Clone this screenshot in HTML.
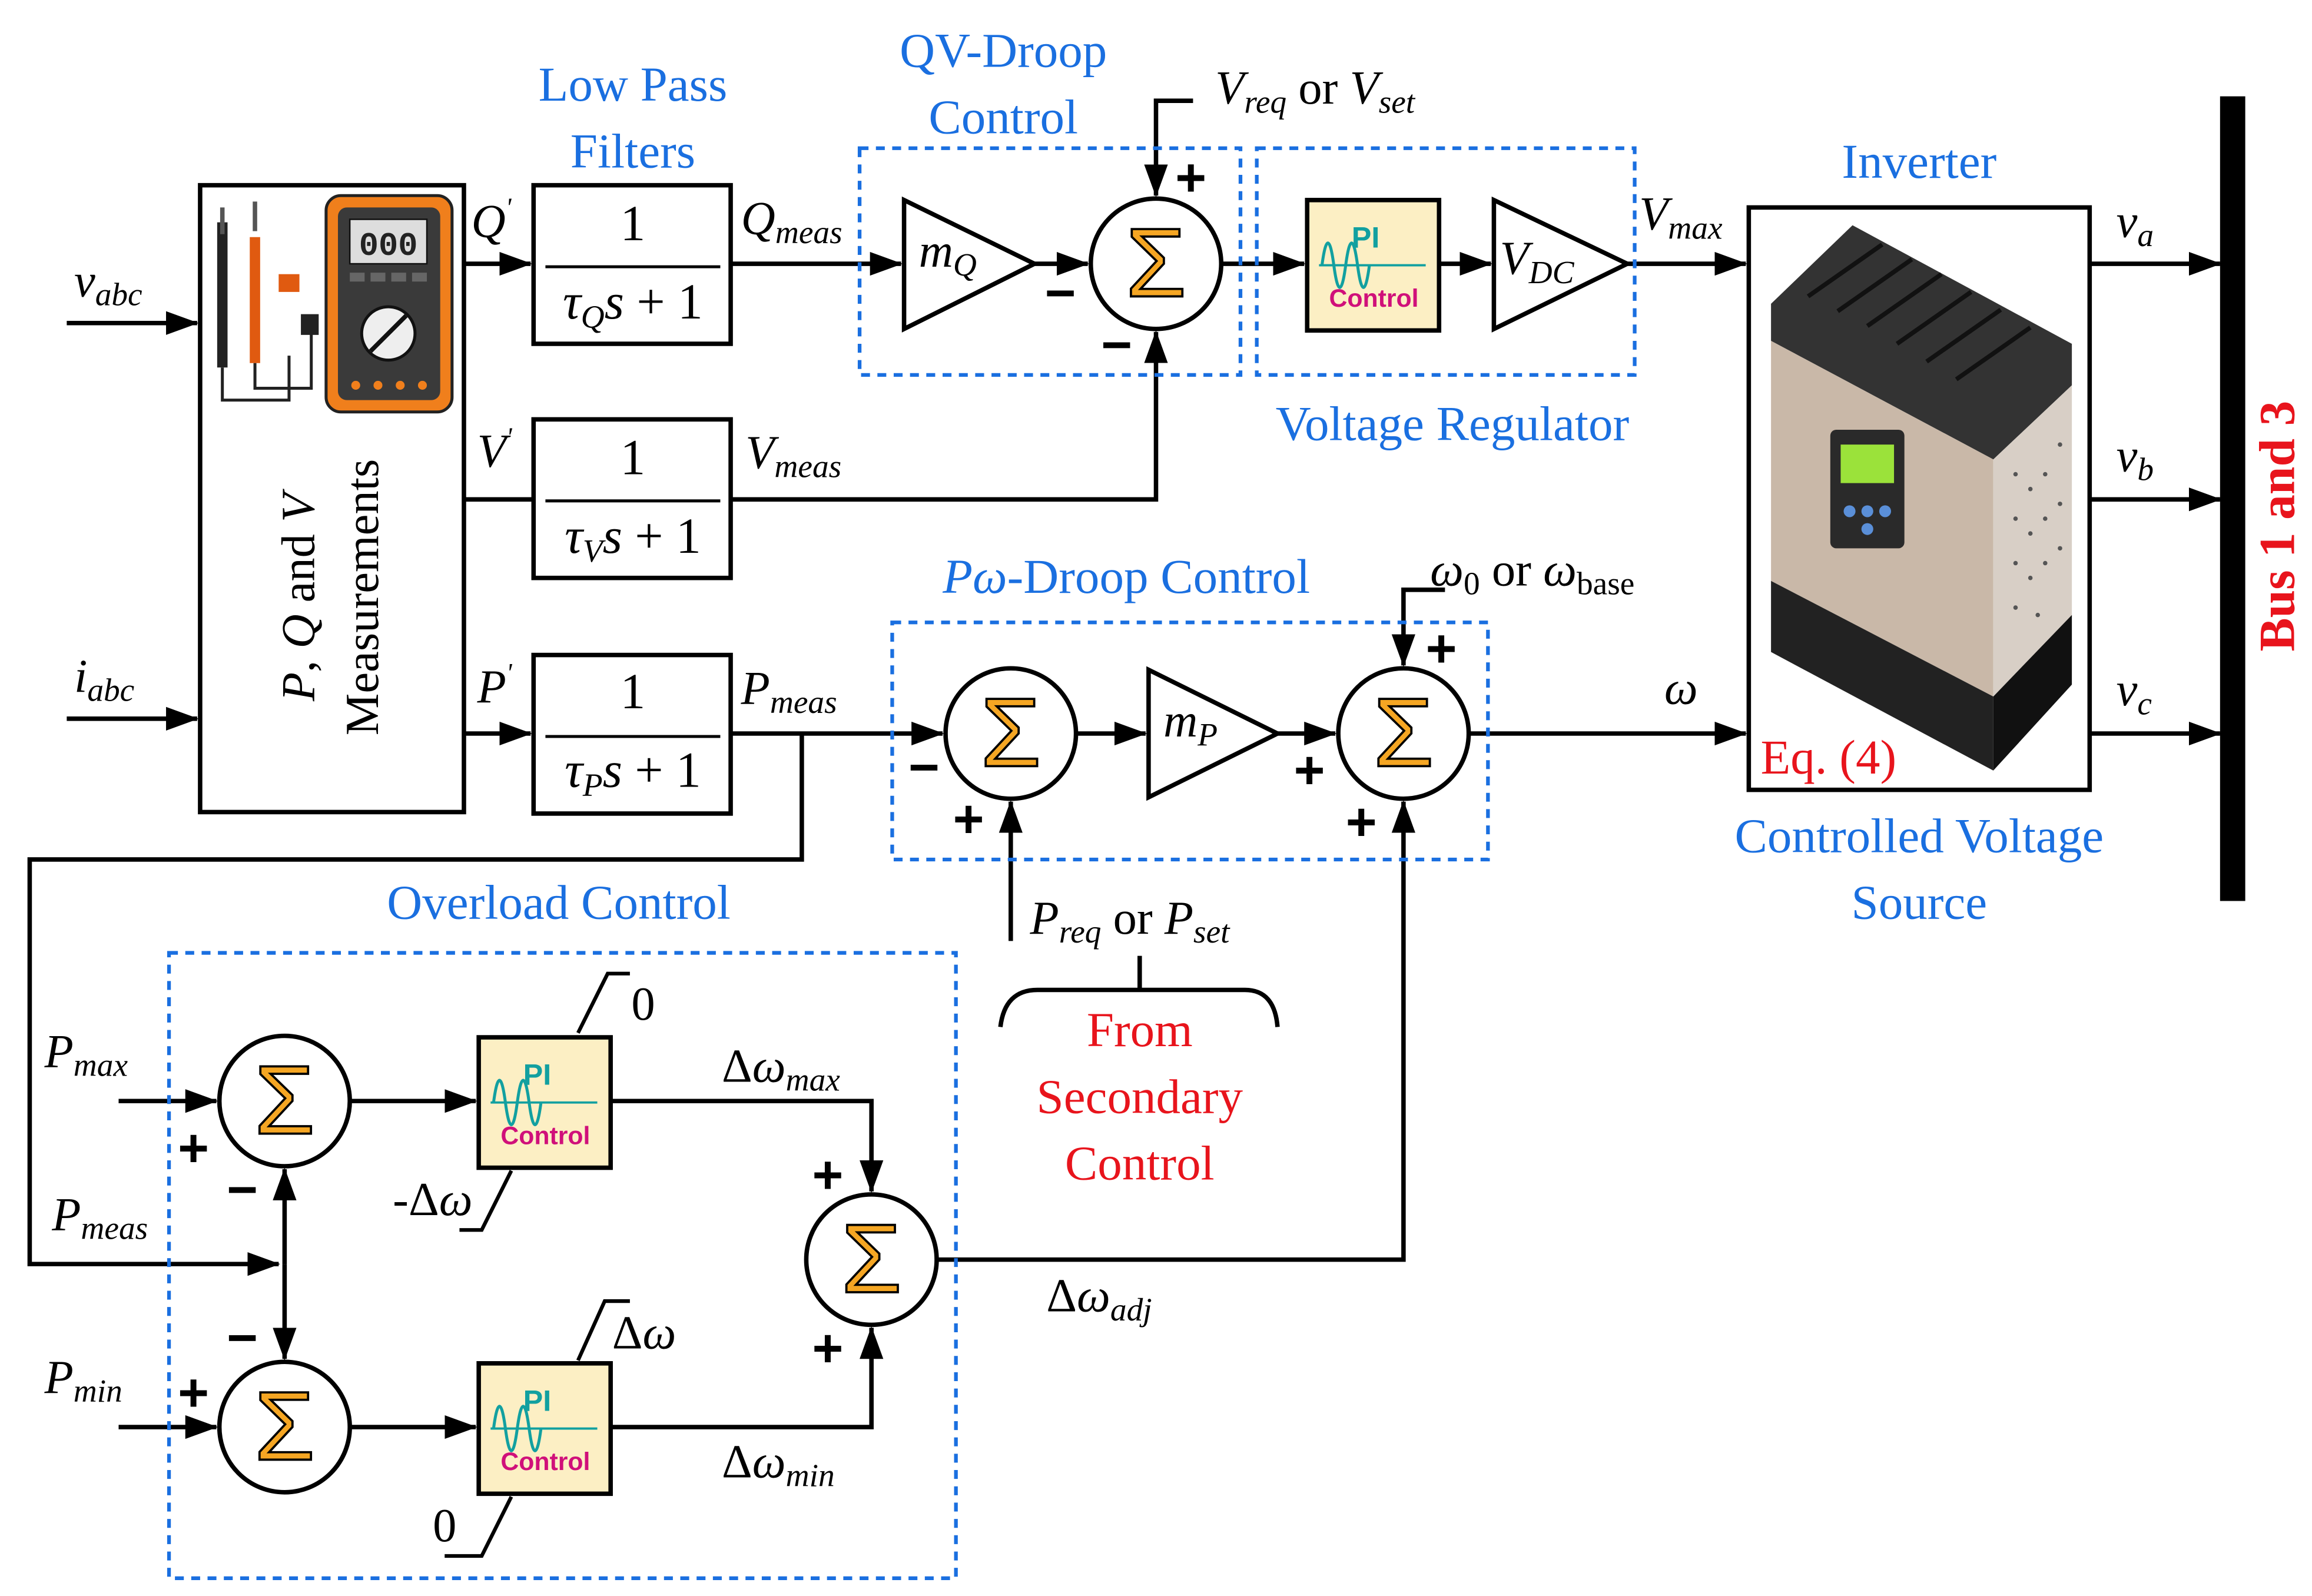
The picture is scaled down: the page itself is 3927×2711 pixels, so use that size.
<!DOCTYPE html>
<html><head><meta charset="utf-8"><style>
html,body{margin:0;padding:0;background:#fff}
svg{display:block}
text{font-family:"Liberation Serif",serif}
.m{font-style:italic;font-size:32px}
.b{fill:#1a6fe0;font-size:33px}
.r{fill:#e8141c;font-size:33px}
.pm text{font-family:"Liberation Sans",sans-serif;font-weight:bold;font-size:36px}
.sg{font-family:"Liberation Sans",sans-serif}
</style></head><body>
<svg width="3927" height="2711" viewBox="0 0 1560 1077" xmlns="http://www.w3.org/2000/svg">
<defs>
<marker id="a2" markerWidth="22" markerHeight="16" refX="21" refY="8" orient="auto" markerUnits="userSpaceOnUse"><path d="M0,0 L22,8 L0,16 z" fill="#000"/></marker>
<g id="sum"><circle r="44" fill="#fff" stroke="#000" stroke-width="3"/><text class="sg" x="0" y="22" text-anchor="middle" font-size="66" fill="#f5a623" stroke="#000" stroke-width="1.5">Σ</text></g>
<g id="pi"><rect width="89" height="88" fill="#fcefc4" stroke="#000" stroke-width="3"/>
<text x="30" y="32" style="font-family:'Liberation Sans',sans-serif;font-weight:bold;font-size:20px" fill="#12a0a0">PI</text>
<path d="M8,44 L80,44" stroke="#12a0a0" stroke-width="1.5"/>
<path d="M10,44 Q14,14 18,44 T26,44 T34,44 T42,44" fill="none" stroke="#12a0a0" stroke-width="2"/>
<text x="45" y="72" text-anchor="middle" style="font-family:'Liberation Sans',sans-serif;font-weight:bold;font-size:17px" fill="#d0107a">Control</text></g>
</defs>
<g stroke="#000" stroke-width="3" fill="none">
<rect x="135" y="125" width="178" height="423"/>
<rect x="360" y="125" width="133" height="107"/>
<rect x="360" y="283" width="133" height="107"/>
<rect x="360" y="442" width="133" height="107"/>
<path d="M368,180 H486 M368,338 H486 M368,497 H486" stroke-width="2"/>
<path d="M45,218 H133" marker-end="url(#a2)"/>
<path d="M45,485 H133" marker-end="url(#a2)"/>
<path d="M313,178 H358" marker-end="url(#a2)"/>
<path d="M313,337 H360"/>
<path d="M313,495 H358" marker-end="url(#a2)"/>
<path d="M493,178 H608" marker-end="url(#a2)"/>
<path d="M610,135 L610,222 L698,178 Z"/>
<path d="M698,178 H734" marker-end="url(#a2)"/>
<path d="M805,68 H780 V132" marker-end="url(#a2)"/>
<path d="M493,337 H780 V224" marker-end="url(#a2)"/>
<path d="M824,178 H880" marker-end="url(#a2)"/>
<path d="M971,178 H1006" marker-end="url(#a2)"/>
<path d="M1008,135 L1008,222 L1098,178 Z"/>
<path d="M1098,178 H1178" marker-end="url(#a2)"/>
<rect x="1180" y="140" width="230" height="393"/>
<path d="M1410,178 H1498" marker-end="url(#a2)"/>
<path d="M1410,337 H1498" marker-end="url(#a2)"/>
<path d="M1410,495 H1498" marker-end="url(#a2)"/>
<path d="M493,495 H636" marker-end="url(#a2)"/>
<path d="M726,495 H773" marker-end="url(#a2)"/>
<path d="M775,452 L775,538 L862,495 Z"/>
<path d="M862,495 H901" marker-end="url(#a2)"/>
<path d="M991,495 H1178" marker-end="url(#a2)"/>
<path d="M975,398 H947 V449" marker-end="url(#a2)"/>
<path d="M682,635 V541" marker-end="url(#a2)"/>
<path d="M675,693 Q678,668 700,668 H840 Q860,668 862,693" stroke-width="3"/>
<path d="M769,645 V668"/>
<path d="M541,495 V580 H20 V853 H188" marker-end="url(#a2)"/>
<path d="M80,743 H146" marker-end="url(#a2)"/>
<path d="M236,743 H321" marker-end="url(#a2)"/>
<path d="M390,697 L410,657 H425 M345,790 L325,830 H310" stroke-width="2.5"/>
<path d="M412,743 H588 V804" marker-end="url(#a2)"/>
<path d="M632,850 H947 V541" marker-end="url(#a2)"/>
<path d="M192,853 V789" marker-end="url(#a2)"/>
<path d="M192,853 V917" marker-end="url(#a2)"/>
<path d="M80,963 H146" marker-end="url(#a2)"/>
<path d="M236,963 H321" marker-end="url(#a2)"/>
<path d="M390,918 L408,878 H425 M345,1010 L325,1050 H300" stroke-width="2.5"/>
<path d="M412,963 H588 V896" marker-end="url(#a2)"/>
</g>
<g stroke="#1a6fe0" stroke-width="2.5" stroke-dasharray="6,5" fill="none">
<rect x="580" y="100" width="257" height="153"/>
<rect x="848" y="100" width="255" height="153"/>
<rect x="602" y="420" width="402" height="160"/>
<rect x="114" y="643" width="531" height="422"/>
</g>
<rect x="1498" y="65" width="17" height="543" fill="#000"/>
<text transform="translate(1548,355) rotate(-90)" text-anchor="middle" font-weight="bold" font-size="34" fill="#e8141c">Bus 1 and 3</text>
<use href="#sum" x="780" y="178"/>
<use href="#sum" x="682" y="495"/>
<use href="#sum" x="947" y="495"/>
<use href="#sum" x="192" y="743"/>
<use href="#sum" x="192" y="963"/>
<use href="#sum" x="588" y="850"/>
<use href="#pi" x="882" y="135"/>
<use href="#pi" x="323" y="700"/>
<use href="#pi" x="323" y="920"/>
<!-- multimeter -->
<rect x="220" y="132" width="85" height="146" rx="10" fill="#f07f1c" stroke="#222" stroke-width="2"/>
<rect x="228" y="140" width="69" height="130" rx="6" fill="#3a3a3a"/>
<rect x="236" y="148" width="52" height="30" fill="#ddd" stroke="#111"/>
<text x="262" y="172" text-anchor="middle" style="font-family:'Liberation Mono',monospace;font-size:22px;font-weight:bold" fill="#222">000</text>
<g fill="#666"><rect x="236" y="184" width="10" height="6"/><rect x="250" y="184" width="10" height="6"/><rect x="264" y="184" width="10" height="6"/><rect x="278" y="184" width="10" height="6"/></g>
<circle cx="262" cy="225" r="18" fill="#eee" stroke="#111" stroke-width="2"/>
<path d="M250,237 L274,213" stroke="#111" stroke-width="3"/>
<g fill="#f07f1c"><circle cx="240" cy="260" r="3"/><circle cx="255" cy="260" r="3"/><circle cx="270" cy="260" r="3"/><circle cx="285" cy="260" r="3"/></g>
<path d="M150,165 V248 M150,150 V165" stroke="#222" stroke-width="7"/>
<path d="M172,160 V245" stroke="#e05a10" stroke-width="7"/>
<path d="M150,140 V158 M172,136 V156" stroke="#555" stroke-width="3"/>
<path d="M150,248 V270 H195 V240 M172,245 V262 H210 V220" stroke="#222" fill="none" stroke-width="2"/>
<rect x="188" y="185" width="14" height="12" fill="#e05a10"/>
<rect x="203" y="212" width="12" height="14" fill="#222"/>
<!-- inverter -->
<polygon points="1195,205 1250,152 1398,232 1398,260 1345,310 1195,230" fill="#333"/>
<g stroke="#111" stroke-width="3"><path d="M1220,200 L1270,165 M1240,210 L1290,175 M1260,220 L1310,185 M1280,232 L1330,197 M1300,244 L1350,209 M1320,256 L1370,221"/></g>
<polygon points="1195,230 1345,310 1345,470 1195,392" fill="#c9b8a8"/>
<polygon points="1345,310 1398,260 1398,415 1345,470" fill="#d8cfc6"/>
<g fill="#555"><circle cx="1360" cy="320" r="1.5"/><circle cx="1370" cy="330" r="1.5"/><circle cx="1380" cy="320" r="1.5"/><circle cx="1360" cy="350" r="1.5"/><circle cx="1370" cy="360" r="1.5"/><circle cx="1380" cy="350" r="1.5"/><circle cx="1360" cy="380" r="1.5"/><circle cx="1370" cy="390" r="1.5"/><circle cx="1380" cy="380" r="1.5"/><circle cx="1390" cy="300" r="1.5"/><circle cx="1390" cy="340" r="1.5"/><circle cx="1390" cy="370" r="1.5"/><circle cx="1360" cy="410" r="1.5"/><circle cx="1375" cy="415" r="1.5"/></g>
<polygon points="1195,392 1345,470 1345,520 1195,440" fill="#222"/>
<polygon points="1345,470 1398,415 1398,462 1345,520" fill="#111"/>
<rect x="1235" y="290" width="50" height="80" rx="4" fill="#2a2a2a"/>
<rect x="1242" y="300" width="36" height="26" fill="#9be23a"/>
<g fill="#5a8fd8"><circle cx="1248" cy="345" r="4"/><circle cx="1260" cy="345" r="4"/><circle cx="1272" cy="345" r="4"/><circle cx="1260" cy="357" r="4"/></g>
<g>
<text class="b" x="427" y="68" text-anchor="middle">Low Pass</text>
<text class="b" x="427" y="113" text-anchor="middle">Filters</text>
<text class="b" x="677" y="45" text-anchor="middle">QV-Droop</text>
<text class="b" x="677" y="90" text-anchor="middle">Control</text>
<text class="b" x="980" y="297" text-anchor="middle">Voltage Regulator</text>
<text class="b" x="1295" y="120" text-anchor="middle">Inverter</text>
<text class="b" x="1295" y="575" text-anchor="middle">Controlled Voltage</text>
<text class="b" x="1295" y="620" text-anchor="middle">Source</text>
<text class="b" x="760" y="400" text-anchor="middle"><tspan font-style="italic">Pω</tspan>-Droop Control</text>
<text class="b" x="377" y="620" text-anchor="middle">Overload Control</text>
<text class="r" x="1188" y="522">Eq. (4)</text>
<text class="r" x="769" y="706" text-anchor="middle">From</text>
<text class="r" x="769" y="751" text-anchor="middle">Secondary</text>
<text class="r" x="769" y="796" text-anchor="middle">Control</text>
<text transform="translate(212,403) rotate(-90)" text-anchor="middle" font-size="32"><tspan font-style="italic">P</tspan>, <tspan font-style="italic">Q</tspan> and <tspan font-style="italic">V</tspan></text>
<text transform="translate(255,403) rotate(-90)" text-anchor="middle" font-size="32">Measurements</text>
<text class="m" x="50" y="200">v<tspan font-size="22" dy="6">abc</tspan></text>
<text class="m" x="50" y="467">i<tspan font-size="22" dy="6">abc</tspan></text>
<text class="m" x="318" y="160">Q<tspan font-size="18" dy="-14">'</tspan></text>
<text class="m" x="322" y="315">V<tspan font-size="18" dy="-14">'</tspan></text>
<text class="m" x="322" y="474">P<tspan font-size="18" dy="-14">'</tspan></text>
<g font-size="34" text-anchor="middle">
<text x="427" y="162">1</text><text x="427" y="320">1</text><text x="427" y="478">1</text>
<text x="427" y="215"><tspan font-style="italic">τ</tspan><tspan font-size="22" font-style="italic" dy="6">Q</tspan><tspan dy="-6" font-style="italic">s</tspan> + 1</text>
<text x="427" y="373"><tspan font-style="italic">τ</tspan><tspan font-size="22" font-style="italic" dy="6">V</tspan><tspan dy="-6" font-style="italic">s</tspan> + 1</text>
<text x="427" y="531"><tspan font-style="italic">τ</tspan><tspan font-size="22" font-style="italic" dy="6">P</tspan><tspan dy="-6" font-style="italic">s</tspan> + 1</text>
</g>
<text class="m" x="500" y="158">Q<tspan font-size="22" dy="6">meas</tspan></text>
<text class="m" x="503" y="316">V<tspan font-size="22" dy="6">meas</tspan></text>
<text class="m" x="500" y="475">P<tspan font-size="22" dy="6">meas</tspan></text>
<text class="m" x="620" y="180">m<tspan font-size="22" dy="6">Q</tspan></text>
<text class="m" x="785" y="497">m<tspan font-size="22" dy="6">P</tspan></text>
<text class="m" x="1012" y="185">V<tspan font-size="22" dy="6">DC</tspan></text>
<text class="m" x="1106" y="155">V<tspan font-size="22" dy="6">max</tspan></text>
<text class="m" x="820" y="70">V<tspan font-size="22" dy="6">req</tspan><tspan font-style="normal" dy="-6"> or </tspan>V<tspan font-size="22" dy="6">set</tspan></text>
<text class="m" x="965" y="395">ω<tspan font-size="22" font-style="normal" dy="6">0</tspan><tspan font-style="normal" dy="-6"> or </tspan>ω<tspan font-size="22" font-style="normal" dy="6">base</tspan></text>
<text class="m" x="695" y="630">P<tspan font-size="22" dy="6">req</tspan><tspan font-style="normal" dy="-6"> or </tspan>P<tspan font-size="22" dy="6">set</tspan></text>
<text class="m" x="1123" y="475">ω</text>
<text class="m" x="1428" y="160">v<tspan font-size="22" dy="6">a</tspan></text>
<text class="m" x="1428" y="318">v<tspan font-size="22" dy="6">b</tspan></text>
<text class="m" x="1428" y="476">v<tspan font-size="22" dy="6">c</tspan></text>
<text class="m" x="30" y="720">P<tspan font-size="22" dy="6">max</tspan></text>
<text class="m" x="35" y="830">P<tspan font-size="22" dy="6">meas</tspan></text>
<text class="m" x="30" y="940">P<tspan font-size="22" dy="6">min</tspan></text>
<text class="m" x="487" y="730"><tspan font-style="normal">Δ</tspan>ω<tspan font-size="22" dy="6">max</tspan></text>
<text class="m" x="487" y="997"><tspan font-style="normal">Δ</tspan>ω<tspan font-size="22" dy="6">min</tspan></text>
<text class="m" x="706" y="885"><tspan font-style="normal">Δ</tspan>ω<tspan font-size="22" dy="6">adj</tspan></text>
<text font-size="32" x="426" y="688">0</text>
<text font-size="32" x="265" y="820">-Δ<tspan font-style="italic">ω</tspan></text>
<text font-size="32" x="413" y="910">Δ<tspan font-style="italic">ω</tspan></text>
<text font-size="32" x="292" y="1040">0</text>
<g class="pm">
<text x="793" y="132">+</text><text x="705" y="210">−</text><text x="743" y="245">−</text>
<text x="962" y="450">+</text><text x="873" y="532">+</text><text x="908" y="567">+</text>
<text x="613" y="530">−</text><text x="643" y="565">+</text>
<text x="120" y="787">+</text><text x="153" y="815">−</text>
<text x="153" y="915">−</text><text x="120" y="952">+</text>
<text x="548" y="805">+</text><text x="548" y="922">+</text>
</g>
</g>
</svg>
</body></html>
